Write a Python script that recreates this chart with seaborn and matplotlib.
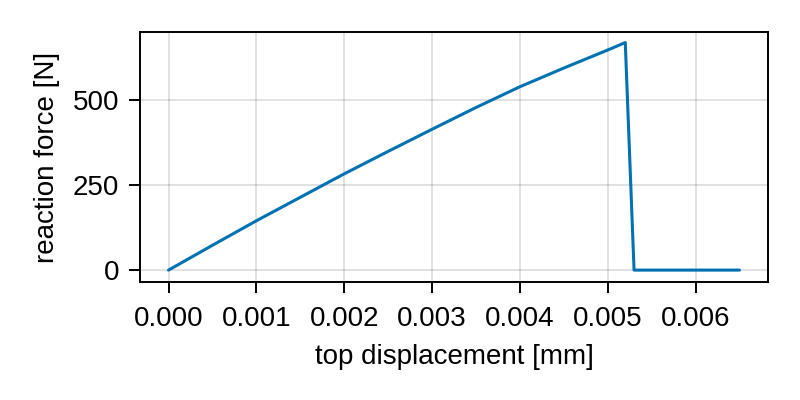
import pandas as pd
import matplotlib
matplotlib.use("Agg")
import matplotlib.pyplot as plt
import seaborn as sns
from matplotlib.ticker import FormatStrFormatter

# Werte
displacement = [0.0, 0.0005, 0.001, 0.0015, 0.002, 0.0025, 0.003, 0.0035,
                0.004, 0.0045, 0.005, 0.0052, 0.0053, 0.0065]
force = [0, 73, 145, 214, 283, 349, 414, 478, 539, 594, 647, 669, 0, 0]

x_ticks = [0.000, 0.001, 0.002, 0.003, 0.004, 0.005, 0.006]
y_ticks = [0, 250, 500]

df = pd.DataFrame({"top displacement [mm]": displacement,
                   "reaction force [N]": force})

sns.set_theme(style="ticks")
plt.rcParams["font.family"] = ["Liberation Sans", "DejaVu Sans"]

fig = plt.figure(figsize=(8, 4), dpi=100)
ax = fig.add_axes([0.175, 0.295, 0.785, 0.625])

sns.lineplot(data=df, x="top displacement [mm]", y="reaction force [N]",
             ax=ax, color="#0072b2", linewidth=2.2, sort=False)

ax.set_xlim(-0.000325, 0.006825)
ax.set_ylim(-35, 700)
ax.set_xticks(x_ticks)
ax.set_yticks(y_ticks)
ax.xaxis.set_major_formatter(FormatStrFormatter("%.3f"))

ax.grid(True, color="black", alpha=0.12, linewidth=1.4)
ax.set_axisbelow(True)
for s in ax.spines.values():
    s.set_visible(True)
    s.set_color("black")
    s.set_linewidth(1.4)
ax.tick_params(axis="both", direction="out", length=8, width=1.4,
               labelsize=20, colors="black")
ax.tick_params(axis="x", pad=9)
ax.tick_params(axis="y", pad=7)
ax.set_xlabel("top displacement [mm]", fontsize=20, labelpad=9, color="black")
ax.set_ylabel("reaction force [N]", fontsize=20, labelpad=9, color="black")

fig.savefig("out.png", dpi=100, facecolor="white")
